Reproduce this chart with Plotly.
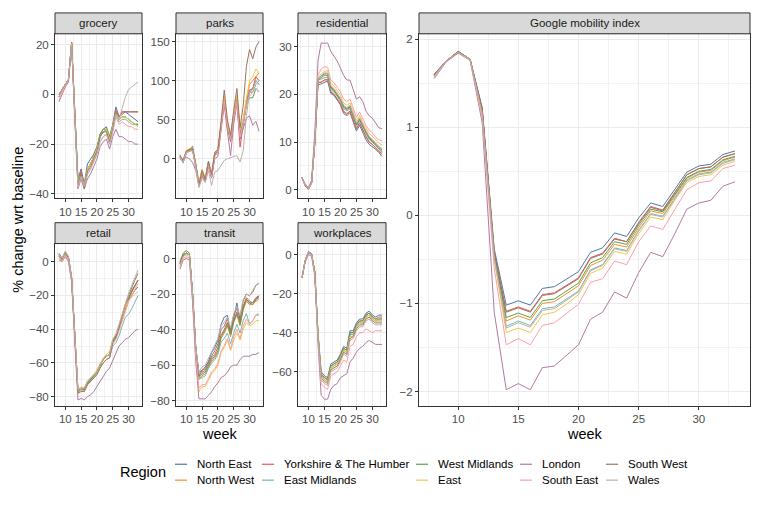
import plotly.graph_objects as go

W, H = 762, 508
FONT = "Liberation Sans, Arial, Helvetica, sans-serif"

weeks = list(range(8, 34))
regions = ["North East", "North West", "Yorkshire & The Humber", "East Midlands",
           "West Midlands", "East", "London", "South East", "South West", "Wales"]
colors = ["#4E79A7", "#F28E2B", "#E15759", "#76B7B2", "#59A14F",
          "#EDC948", "#B07AA1", "#FF9DA7", "#9C755F", "#BAB0AC"]

# each panel: one list per region, in the order of `regions`, weeks 8..33
grocery = [
    [0, 2, 4, 6, 21, -7, -34, -30, -36, -28, -26, -24, -21, -16, -14, -13, -17, -12, -5, -9, -7, -7, -8, -9, -10, -11],
    [-1, 1.5, 4, 6, 20.5, -8, -35, -32, -37, -30, -28, -25, -22, -17, -15, -14, -18, -13, -7, -10, -9, -9, -10, -11, -12, -12],
    [-1, 2, 4, 6, 20.5, -8, -35, -31, -37, -30, -28, -25, -22, -17, -15, -14, -18, -13, -6, -9, -7, -7, -7, -7, -7, -7],
    [-1, 2, 4, 6, 20.5, -8, -35, -32, -37, -30, -28, -25, -22, -17, -15, -14, -18, -13, -8, -11, -10, -10, -11, -12, -12, -12.5],
    [-1, 2, 4, 6, 20.5, -8, -34, -32, -37, -30, -28, -25, -22, -16, -14, -14, -17, -13, -7, -10, -9, -9, -10, -11, -12, -12],
    [-1, 1.5, 4, 6, 21, -8, -35, -32, -37, -30, -28, -25, -22, -17, -15, -14, -18, -13, -7, -10, -9, -9, -10, -11, -12, -13],
    [-3, 0, 3, 5, 20, -9, -38, -34, -38, -34, -32, -29, -26, -21, -19, -18, -22, -17, -14, -17, -17, -18, -19, -19, -20, -20],
    [-2, 1, 3.5, 5.5, 20.5, -9, -37, -33, -38, -32, -30, -27, -24, -19, -17, -16, -20, -15, -9, -12, -11, -12, -13, -13, -14, -14],
    [0, 2, 4.5, 6, 21, -8, -36, -32, -38, -31, -29, -26, -23, -17, -15, -15, -19, -14, -7, -9, -8, -7, -7, -7, -7, -7],
    [-1, 2, 4, 6, 20.5, -9, -37, -33, -37, -32, -30, -27, -24, -19, -17, -16, -20, -15, -8, -10, -5, -1, 2, 3, 4, 5],
]
parks = [
    [5, -5, 8, 12, 16, -8, -32, -15, -25, -3, -20, 8, 12, 42, 75, 42, 25, 55, 78, 33, 45, 70, 85, 90, 100, 95],
    [3, -2, 10, 13, 13, -6, -32, -14, -26, -5, -22, 6, 10, 45, 78, 45, 28, 58, 80, 35, 50, 75, 95, 100, 105, 110],
    [2, -3, 8, 11, 12, -8, -33, -17, -28, -6, -23, 6, 10, 42, 76, 40, 22, 52, 75, 15, 45, 72, 88, 90, 105, 100],
    [3, -3, 8, 10, 11, -9, -34, -18, -28, -7, -24, 5, 9, 42, 74, 42, 26, 54, 74, 32, 48, 70, 85, 85, 95, 100],
    [2, -4, 7, 10, 11, -10, -34, -19, -29, -8, -24, 4, 8, 40, 72, 40, 25, 52, 72, 30, 45, 68, 78, 78, 90, 86],
    [4, -2, 10, 13, 14, -6, -30, -14, -25, -4, -20, 8, 12, 46, 80, 46, 30, 58, 82, 38, 52, 78, 100, 105, 115, 110],
    [0, -3, 2, 0, -5, -15, -35, -22, -30, -10, -24, 0, 3, 35, 70, 35, 4, 45, 70, 25, 40, 52, 55, 43, 48, 35],
    [2, -3, 7, 10, 11, -10, -34, -18, -28, -8, -23, 4, 8, 40, 74, 42, 25, 52, 72, 28, 45, 68, 80, 85, 90, 85],
    [4, -2, 10, 12, 13, -7, -33, -15, -27, -4, -20, 8, 12, 48, 88, 50, 30, 62, 90, 40, 68, 118, 140, 128, 143, 150],
    [2, -4, 8, 10, 10, -10, -37, -25, -30, -15, -34, -17, -15, -8, -2, 0, 2, 3, 4, -4, 10, 55, 85, 88, 100, 95],
]
residential = [
    [2.5, 0.8, 0.1, 1.4, 9.5, 22, 22.2, 22.5, 22.8, 20.2, 19.8, 18.8, 17.8, 16, 15.5, 16.2, 14.2, 12.3, 13.5, 12, 10.5, 9.5, 9, 8.5, 7.8, 7],
    [2.5, 0.9, 0.1, 1.5, 9.8, 22.5, 22.5, 23, 23, 20.6, 20, 19, 18, 16.5, 16, 16.5, 14.5, 12.8, 14, 12.5, 11, 10, 9.5, 8.8, 8, 7.4],
    [2.5, 0.9, 0.2, 1.5, 9.8, 22.5, 22.6, 23, 23.2, 20.5, 20, 19, 18, 16.4, 15.8, 16.5, 14.5, 12.8, 14, 12.4, 11.2, 10, 9.5, 8.8, 8, 7.6],
    [2.5, 1, 0.2, 1.5, 10, 23, 23.2, 23.5, 23.6, 21, 20.5, 19.5, 18.5, 17, 16.5, 17, 15, 13.3, 14.4, 13, 11.8, 10.5, 10, 9.2, 8.5, 7.8],
    [2.5, 1, 0.2, 1.5, 10, 23, 23.5, 24, 24, 21.3, 20.8, 19.8, 18.8, 17.3, 16.8, 17.3, 15.3, 13.6, 14.7, 13.2, 12, 10.8, 10.2, 9.4, 8.7, 8],
    [2.5, 1, 0.3, 1.6, 10.5, 23.5, 24.3, 24.8, 25, 22.3, 21.8, 20.8, 19.8, 18.2, 17.7, 18.2, 16.2, 14.5, 15.6, 14.1, 13, 11.8, 11.2, 10.4, 9.8, 9.3],
    [2.6, 1.2, 0.4, 2, 12, 27, 30.8, 30.7, 30.8, 29, 28, 27, 25.5, 24, 23, 23, 21, 19, 19.5, 18.5, 16.5, 15.5, 15, 14, 13, 12.8],
    [2.5, 1, 0.3, 1.6, 10.5, 24, 25.3, 25.8, 25.7, 23, 22.5, 21.5, 20.5, 19, 18.5, 19, 17, 15.2, 16.3, 14.8, 13.5, 12.5, 12, 11, 10.5, 10.2],
    [2.5, 1, 0.2, 1.5, 10, 23.2, 23.8, 24.3, 24.3, 21.6, 21, 20, 19, 17.5, 17, 17.5, 15.5, 13.8, 14.9, 13.4, 12.2, 11, 10.4, 9.6, 8.9, 8.3],
    [2.5, 1, 0.2, 1.5, 10, 23.3, 24, 24.5, 24.5, 21.8, 21.2, 20.2, 19.2, 17.7, 17.2, 17.7, 15.8, 14, 15.1, 13.6, 12.4, 11.2, 10.6, 9.8, 9.1, 8.6],
]
retail = [
    [3, 1, 5, 2, -10, -45, -76, -75, -75, -71, -69, -67, -65, -61, -58, -56, -55, -47, -44, -39, -33, -27, -23, -20, -17, -15],
    [4, 1, 4, 2, -10, -46, -77, -75, -76, -72, -70, -68, -66, -61, -58, -56, -55, -47, -44, -39, -33, -27, -22, -18, -14, -11],
    [4, 1, 5, 2, -10, -46, -76, -75, -76, -72, -70, -68, -66, -61, -58, -56, -55, -47, -44, -39, -33, -27, -22, -18, -14, -11],
    [3, 1, 4, 2, -11, -47, -77, -76, -76, -72, -70, -68, -66, -62, -60, -58, -57, -50, -48, -44, -38, -33, -31, -28, -24, -20],
    [4, 1, 5, 2, -10, -46, -77, -76, -76, -72, -70, -68, -66, -61, -58, -56, -55, -47, -44, -39, -33, -27, -22, -17, -14, -11],
    [2, 0, 4, 1, -10, -45, -76, -74, -75, -71, -69, -67, -64, -60, -57, -55, -53, -46, -43, -39, -33, -27, -23, -21, -19, -18],
    [1, 0, 3, 0, -12, -50, -82, -81, -82, -80, -79, -77, -74, -71, -68, -65, -63, -59, -54, -50, -48, -46, -45, -43, -41, -40],
    [3, 0, 4, 1, -11, -47, -78, -76, -77, -73, -71, -69, -67, -63, -60, -58, -57, -49, -46, -41, -35, -29, -24, -20, -16, -13],
    [5, 2, 6, 3, -9, -45, -78, -77, -77, -73, -71, -69, -67, -63, -60, -58, -57, -48, -45, -39, -32, -25, -20, -15, -11, -7],
    [4, 2, 6, 3, -9, -44, -76, -75, -75, -71, -69, -67, -66, -61, -58, -56, -55, -46, -43, -37, -30, -24, -19, -14, -10, -5],
]
transit = [
    [-3, 2, 3, 2, -20, -50, -64, -63, -61, -58, -53, -50, -46, -37, -33, -32, -42, -33, -25, -35, -27, -23, -25, -26, -23, -21],
    [-3, 2, 3, 2, -21, -52, -68, -66, -65, -61, -58, -56, -53, -45, -42, -38, -44, -36, -32, -38, -29, -24, -26, -26, -24, -23],
    [-2, 2, 3, 2, -20, -51, -66, -64, -63, -59, -56, -54, -50, -43, -40, -36, -42, -35, -30, -36, -27, -22, -24, -25, -22, -21],
    [-3, 2, 3, 2, -21, -52, -68, -67, -66, -62, -59, -57, -54, -47, -45, -42, -48, -42, -37, -42, -35, -31, -37, -35, -32, -31],
    [-2, 3, 4.5, 3, -20, -51, -67, -65, -64, -60, -57, -55, -52, -44, -41, -37, -43, -35, -31, -37, -28, -23, -25, -25, -23, -22],
    [-4, 1, 2, 1, -22, -54, -75, -72, -72, -68, -65, -63, -60, -53, -50, -46, -52, -46, -42, -46, -40, -36, -38, -37, -35, -35],
    [-6, -1, 0, -1, -25, -58, -79, -79, -79, -77, -75, -72, -70, -67, -66, -64, -61, -60, -60, -57, -55, -55, -55, -54, -54, -53],
    [-5, 0, 1, 0, -23, -55, -73, -71, -71, -67, -64, -62, -59, -52, -49, -45, -51, -44, -40, -45, -38, -34, -37, -35, -32, -32],
    [-3, 2, 3, 2, -20, -50, -66, -63, -62, -58, -55, -52, -48, -40, -38, -34, -40, -32, -28, -33, -24, -20, -21, -19, -15, -14],
    [-4, 1, 3, 2, -20, -50, -64, -61, -60, -56, -52, -49, -45, -38, -36, -33, -39, -31, -27, -32, -23, -20, -21, -18, -15, -14],
]
workplaces = [
    [-12, -3, 1.5, 0.5, -9, -40, -60, -62, -63, -56, -55, -54, -51, -47, -48, -39, -39, -35, -33, -33, -30, -29, -31, -32, -31, -31],
    [-12, -3, 1, 0, -9, -41, -62, -64, -65, -58, -57, -56, -53, -49, -50, -41, -41, -37, -35, -35, -32, -31, -33, -34, -33, -33],
    [-12, -3, 1, 0, -9, -41, -61, -63, -64, -57, -56, -55, -52, -48, -49, -40, -40, -36, -34, -34, -31, -30, -32, -33, -32, -32],
    [-12, -3, 1, 0, -9, -41, -62, -64, -65, -58, -57, -56, -53, -49, -50, -41, -41, -37, -35, -35, -32, -31, -33, -34, -34, -34],
    [-12, -3, 1, 0, -9, -41, -62, -63, -64, -57, -56, -55, -52, -48, -49, -40, -40, -36, -34, -34, -31, -30, -32, -33, -33, -33],
    [-12, -3, 1, 0, -9, -41, -62, -64, -65, -58, -57, -56, -53, -49, -50, -42, -42, -37, -35, -35, -32, -31, -33, -34, -34, -34],
    [-12, -4, 0, -1, -11, -46, -72, -74, -74, -69, -67, -66, -63, -62, -61, -55, -53, -50, -48, -47, -45, -44, -45, -46, -46, -46],
    [-12, -3, 0.5, -0.5, -10, -44, -66, -68, -69, -62, -61, -60, -57, -54, -55, -47, -46, -42, -40, -40, -38, -39, -40, -39, -39, -39],
    [-12, -3, 1, 0, -9, -42, -63, -65, -66, -59, -58, -57, -54, -50, -51, -43, -42, -38, -36, -36, -33, -32, -34, -35, -35, -35],
    [-12, -3, 1, 0, -10, -43, -64, -66, -67, -60, -59, -58, -55, -51, -52, -44, -43, -39, -37, -37, -34, -33, -35, -36, -36, -36],
]
google_index = [
    [1.6, 1.75, 1.86, 1.77, 1.22, -0.38, -1.02, -0.97, -1.02, -0.83, -0.81, -0.72, -0.64, -0.42, -0.37, -0.2, -0.24, -0.03, 0.14, 0.1, 0.29, 0.49, 0.56, 0.58, 0.69, 0.73],
    [1.58, 1.75, 1.85, 1.77, 1.18, -0.45, -1.2, -1.14, -1.19, -1.0, -0.98, -0.89, -0.8, -0.57, -0.51, -0.33, -0.36, -0.14, 0.05, 0.02, 0.22, 0.42, 0.49, 0.51, 0.62, 0.66],
    [1.59, 1.75, 1.86, 1.77, 1.2, -0.42, -1.09, -1.04, -1.09, -0.9, -0.88, -0.79, -0.71, -0.48, -0.43, -0.26, -0.3, -0.08, 0.1, 0.06, 0.26, 0.46, 0.53, 0.55, 0.66, 0.7],
    [1.58, 1.75, 1.85, 1.77, 1.16, -0.48, -1.26, -1.2, -1.25, -1.06, -1.04, -0.95, -0.86, -0.62, -0.56, -0.37, -0.4, -0.17, 0.02, -0.01, 0.2, 0.4, 0.47, 0.49, 0.6, 0.64],
    [1.59, 1.75, 1.86, 1.77, 1.19, -0.44, -1.16, -1.11, -1.16, -0.97, -0.95, -0.86, -0.77, -0.54, -0.48, -0.3, -0.33, -0.11, 0.07, 0.04, 0.23, 0.43, 0.5, 0.52, 0.63, 0.67],
    [1.57, 1.75, 1.85, 1.76, 1.14, -0.5, -1.33, -1.28, -1.33, -1.13, -1.1, -1.01, -0.9, -0.66, -0.6, -0.41, -0.44, -0.21, -0.02, -0.05, 0.17, 0.37, 0.44, 0.46, 0.57, 0.61],
    [1.55, 1.74, 1.84, 1.76, 1.05, -1.1, -1.98, -1.91, -1.98, -1.73, -1.71, -1.59, -1.47, -1.18, -1.1, -0.87, -0.94, -0.65, -0.42, -0.47, -0.21, 0.07, 0.14, 0.17, 0.33, 0.38],
    [1.56, 1.75, 1.85, 1.76, 1.1, -0.6, -1.47, -1.4, -1.47, -1.25, -1.22, -1.12, -1.01, -0.76, -0.72, -0.52, -0.56, -0.3, -0.12, -0.16, 0.07, 0.29, 0.37, 0.39, 0.53, 0.57],
    [1.6, 1.75, 1.86, 1.77, 1.21, -0.42, -1.1, -1.05, -1.1, -0.91, -0.89, -0.8, -0.72, -0.49, -0.44, -0.27, -0.3, -0.09, 0.09, 0.05, 0.26, 0.46, 0.53, 0.55, 0.66, 0.7],
    [1.58, 1.75, 1.85, 1.77, 1.15, -0.48, -1.28, -1.22, -1.27, -1.08, -1.06, -0.96, -0.87, -0.63, -0.57, -0.38, -0.41, -0.18, 0.01, -0.02, 0.19, 0.39, 0.46, 0.48, 0.59, 0.63],
]

panel_names = ["grocery", "parks", "residential", "retail", "transit", "workplaces",
               "Google mobility index"]
panel_data = [grocery, parks, residential, retail, transit, workplaces, google_index]

x_major = [10, 15, 20, 25, 30]
x_minor = [7.5, 12.5, 17.5, 22.5, 27.5, 32.5]
y_major = [[-40, -20, 0, 20], [0, 50, 100, 150], [0, 10, 20, 30],
           [-80, -60, -40, -20, 0], [-80, -60, -40, -20, 0], [-60, -40, -20, 0],
           [-2, -1, 0, 1, 2]]
y_minor = [[-30, -10, 10], [-25, 25, 75, 125], [5, 15, 25],
           [-70, -50, -30, -10], [-70, -50, -30, -10], [-70, -50, -30, -10],
           [-1.5, -0.5, 0.5, 1.5]]

# layout (pixels): panel boxes x0, x1, y0(top), y1(bottom)
boxes = [(55, 142, 33, 198), (176, 263, 33, 198), (298, 386, 33, 198),
         (55, 142, 244, 407), (176, 263, 244, 407), (298, 386, 244, 407),
         (419, 750, 33, 407)]
y_ranges = [(-41.6, 24.4), (-50, 160), (-1.7, 32.7), (-85.3, 10.7),
            (-82.8, 8.4), (-77.3, 5.6), (-2.16, 2.06)]
x_range = (6.75, 34.25)
STRIP_H = 21

fig = go.Figure()
for p, data in enumerate(panel_data):
    xa = "x" if p == 0 else f"x{p+1}"
    ya = "y" if p == 0 else f"y{p+1}"
    for r, region in enumerate(regions):
        fig.add_trace(go.Scatter(
            x=weeks, y=data[r], mode="lines", name=region,
            line=dict(color=colors[r], width=1),
            xaxis=xa, yaxis=ya, legendgroup=region,
            showlegend=False, hoverinfo="skip"))

layout = dict(
    width=W, height=H, margin=dict(l=0, r=0, t=0, b=0),
    paper_bgcolor="white", plot_bgcolor="white",
    font=dict(family=FONT, color="#1A1A1A"),
    showlegend=False,
)
tick_font = dict(family=FONT, size=11.5, color="#4D4D4D")
shapes, annotations = [], []
for p, (x0, x1, y0, y1) in enumerate(boxes):
    sx = "" if p == 0 else str(p + 1)
    common = dict(ticks="outside", ticklen=3, tickcolor="#333333", tickwidth=1,
                  tickfont=tick_font, showgrid=True, gridcolor="#EBEBEB", gridwidth=1,
                  showline=True, mirror=True, linecolor="#333333", linewidth=1,
                  zeroline=False, fixedrange=True)
    layout["xaxis" + sx] = dict(domain=[x0 / W, x1 / W], range=list(x_range),
                                anchor="y" + sx, tickmode="array", tickvals=x_major,
                                minor=dict(tickmode="array", tickvals=x_minor, showgrid=True,
                                           gridcolor="#F2F2F2", gridwidth=0.6, ticks=""),
                                **common)
    layout["yaxis" + sx] = dict(domain=[1 - y1 / H, 1 - y0 / H], range=list(y_ranges[p]),
                                anchor="x" + sx, tickmode="array", tickvals=y_major[p],
                                minor=dict(tickmode="array", tickvals=y_minor[p], showgrid=True,
                                           gridcolor="#F2F2F2", gridwidth=0.6, ticks=""),
                                **common)
    # facet strip
    shapes.append(dict(type="rect", xref="paper", yref="paper",
                       x0=x0 / W, x1=x1 / W, y0=1 - y0 / H, y1=1 - (y0 - STRIP_H) / H,
                       fillcolor="#D9D9D9", line=dict(color="#333333", width=1), layer="above"))
    annotations.append(dict(text=panel_names[p], xref="paper", yref="paper",
                            x=(x0 + x1) / 2 / W, y=1 - (y0 - STRIP_H / 2) / H,
                            xanchor="center", yanchor="middle", showarrow=False,
                            font=dict(family=FONT, size=11.5, color="#1A1A1A")))

title_font = dict(family=FONT, size=14.5, color="black")
annotations += [
    dict(text="% change wrt baseline", xref="paper", yref="paper", x=18 / W, y=1 - 220 / H,
         textangle=-90, showarrow=False, xanchor="center", yanchor="middle", font=title_font),
    dict(text="week", xref="paper", yref="paper", x=220 / W, y=1 - 436 / H,
         showarrow=False, xanchor="center", yanchor="middle", font=title_font),
    dict(text="week", xref="paper", yref="paper", x=585 / W, y=1 - 436 / H,
         showarrow=False, xanchor="center", yanchor="middle", font=title_font),
    dict(text="Region", xref="paper", yref="paper", x=143 / W, y=1 - 474 / H,
         showarrow=False, xanchor="center", yanchor="middle", font=title_font),
]

# legend keys: 5 columns x 2 rows, filled by column
text_x = [196, 283, 437, 541, 627]
row_y = [466, 482]
for r, region in enumerate(regions):
    col, row = r // 2, r % 2
    yk = 1 - row_y[row] / H
    shapes.append(dict(type="line", xref="paper", yref="paper",
                       x0=(text_x[col] - 21) / W, x1=(text_x[col] - 9) / W, y0=yk, y1=yk,
                       line=dict(color=colors[r], width=1.2)))
    annotations.append(dict(text=region, xref="paper", yref="paper",
                            x=(text_x[col] - 1) / W, y=yk, xanchor="left", yanchor="middle",
                            showarrow=False,
                            font=dict(family=FONT, size=11.5, color="black")))

layout["shapes"] = shapes
layout["annotations"] = annotations
fig.update_layout(**layout)
fig.write_html("out.html", config={"displayModeBar": False},
               post_script="document.body.style.margin='0px';")
